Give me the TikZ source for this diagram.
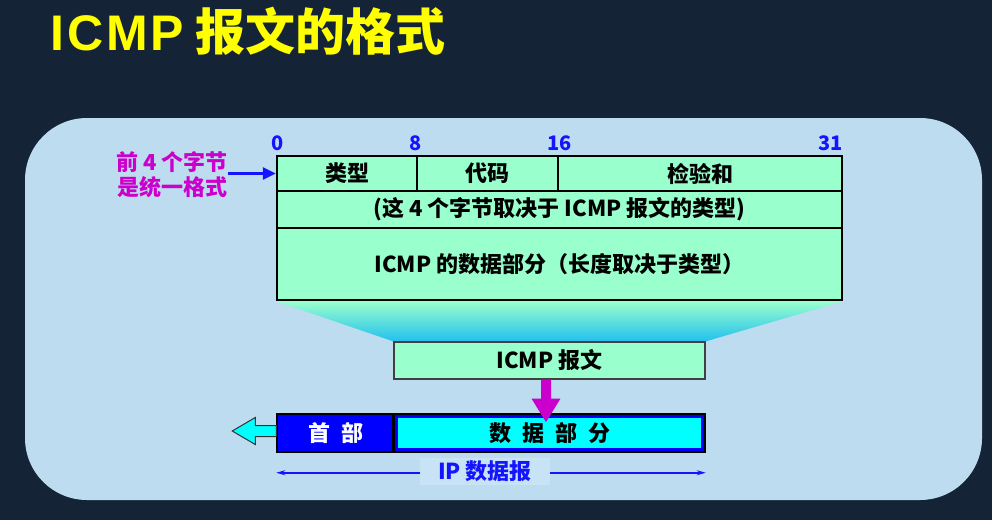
\documentclass[tikz,border=0pt]{standalone}
\usepackage{fontspec}
\setmainfont{Noto Sans CJK SC}
\newfontfamily\titlelatin{Liberation Sans}[LetterSpace=6]
\usetikzlibrary{arrows.meta,calc}
\definecolor{bgdark}{HTML}{152336}
\definecolor{panel}{HTML}{BDDCF0}
\definecolor{aqua}{HTML}{99FFCC}
\definecolor{funbot}{HTML}{22C0EE}
\definecolor{funmid}{HTML}{88F0D8}
\definecolor{numblue}{HTML}{1414FF}
\definecolor{mag}{HTML}{CC00CC}
\definecolor{iplblbg}{HTML}{C8E3F6}
\definecolor{titley}{HTML}{FFFF00}
\definecolor{cyanrgb}{HTML}{00FFFF}
\definecolor{bluergb}{HTML}{0000FF}
\pgfdeclarelayer{back}
\pgfdeclarelayer{funnel}
\pgfsetlayers{back,funnel,main}
\begin{document}
\begin{tikzpicture}[x=1pt,y=-1pt,
  txt/.style={font=\bfseries\fontsize{22}{25}\selectfont, inner sep=0pt},
  cell/.style={txt, draw=black, line width=2.4pt, fill=aqua},
  num/.style={font=\bfseries\fontsize{20}{22}\selectfont, text=numblue, inner sep=0pt},
  barbox/.style={txt, draw=black, line width=1.5pt, fill=bluergb, minimum height=38pt}
]
\useasboundingbox (0,0) rectangle (992,520);
\begin{pgfonlayer}{back}
\fill[bgdark] (0,0) rectangle (992,520);
\fill[panel, rounded corners=62pt] (25,118) rectangle (982,500);
\end{pgfonlayer}

% title
\node[anchor=base west, inner sep=0pt, text=titley,
      font=\bfseries\fontsize{50}{58}\selectfont] (title) at (50,50)
      {{\titlelatin ICMP} 报文的格式};

% table
\node[cell, minimum width=140pt, minimum height=35pt] (type) at (347,173.5) {类型};
\node[cell, minimum width=141pt, minimum height=35pt] (code) at (487.5,173.5) {代码};
\node[cell, minimum width=284pt, minimum height=35pt] (chk) at (700,173.5) {检验和};
\node[cell, minimum width=565pt, minimum height=37pt] (row2) at (559.5,209.5) {(这 4 个字节取决于 ICMP 报文的类型)};
\node[cell, minimum width=565pt, minimum height=72pt] (row3) at (559.5,264) {ICMP 的数据部分（长度取决于类型）};

% bit numbers
\node[num, anchor=base] (n0) at ([xshift=2pt,yshift=4pt]type.north west) {0};
\node[num, anchor=base] (n8) at ([yshift=4pt]code.north west) {8};
\node[num, anchor=base] (n16) at ([xshift=3pt,yshift=4pt]chk.north west) {16};
\node[num, anchor=base east] (n31) at ([yshift=4pt]chk.north east) {31};

% left label
\node[txt, text=mag, align=center] (lbl) at (172,175) {前 4 个字节\\是统一格式};
\draw[numblue, line width=3pt, -{Triangle[length=13pt,width=12pt]}] (lbl.east |- type.west) -- (type.west);

% ICMP message box
\node[txt, draw=black!75, line width=1.2pt, fill=aqua, minimum width=311pt, minimum height=37pt] (icmp) at (549.5,360.5) {ICMP 报文};

% funnel
\begin{pgfonlayer}{funnel}
\shade[top color=aqua, middle color=funmid, bottom color=funbot]
  (row3.south west) -- (row3.south east) -- (icmp.north east) -- (icmp.north west) -- cycle;
\end{pgfonlayer}

% IP datagram bar
\node[barbox, text=white, minimum width=117pt] (hdr) at (335.5,433) {首\hspace{11pt}部};
\node[barbox, text=black, minimum width=311pt,
  path picture={\fill[cyanrgb] ([shift={(4pt,-4pt)}]path picture bounding box.north west) rectangle ([shift={(-4pt,4pt)}]path picture bounding box.south east);}]
  (data) at (549.5,433) {数\hspace{11pt}据\hspace{11pt}部\hspace{11pt}分};
\draw[black, line width=2.5pt] (data.north west) -- (data.south west);

% cyan arrow to the left
\filldraw[fill=cyanrgb, draw=black!80, line width=1pt]
  ([yshift=2pt]hdr.west) ++(0,-5.5) -- ++(-21,0) -- ++(0,-8) -- ++(-23,13.5)
  -- ++(23,13.5) -- ++(0,-8) -- ++(21,0) -- cycle;

% magenta arrow
\fill[mag] ([xshift=-3.5pt]icmp.south) ++(-5,0) -- ++(0,19) -- ++(-9.5,0) -- ++(14.5,23.5)
  -- ++(14.5,-23.5) -- ++(-9.5,0) -- ++(0,-19) -- cycle;

% IP datagram extent
\coordinate (ipL) at ([yshift=-20pt]hdr.south west);
\coordinate (ipR) at ([yshift=-20pt]data.south east);
\draw[numblue, line width=2pt, {Stealth[length=9pt,width=5pt]}-{Stealth[length=9pt,width=5pt]}] (ipL) -- (ipR);
\node[txt, fill=iplblbg, text=numblue, minimum width=130pt, minimum height=27pt] (iplbl) at (485,471.5) {IP 数据报};
\end{tikzpicture}
\end{document}
